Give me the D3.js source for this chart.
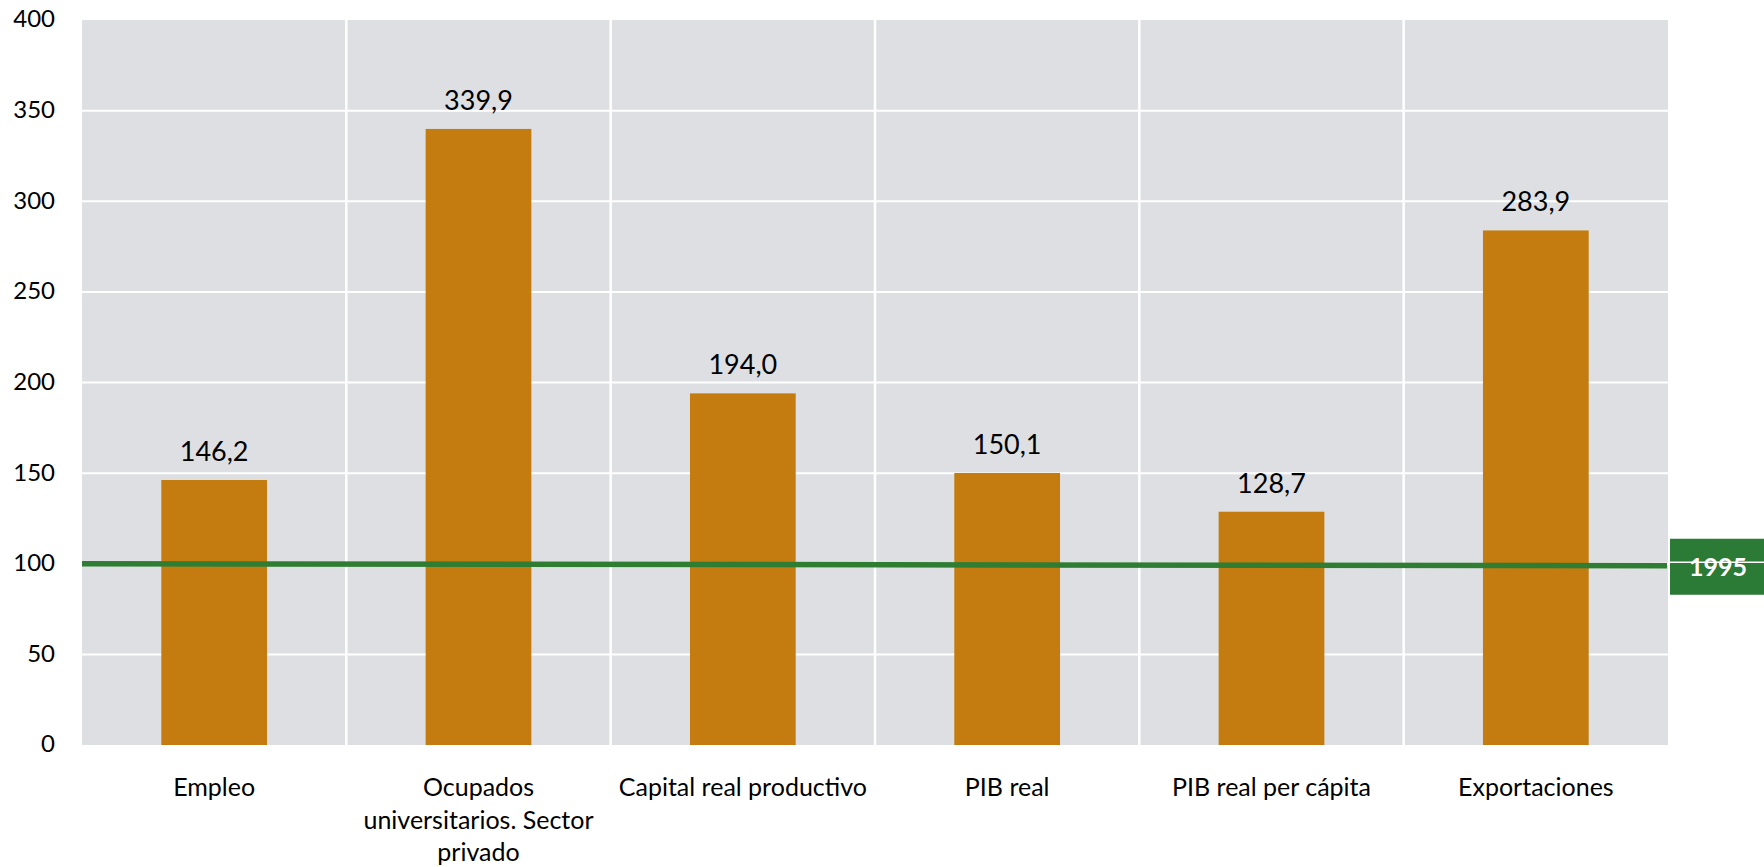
<!DOCTYPE html>
<html>
<head>
<meta charset="utf-8">
<script src="https://cdn.jsdelivr.net/npm/d3@7/dist/d3.min.js"></script>
<style>
  html, body { margin: 0; padding: 0; background: #ffffff; }
  svg { display: block; font-family: Lato, "Open Sans", sans-serif; }
</style>
</head>
<body>
<svg id="chart" width="1764" height="867"></svg>
<script>
// ---- Data ----
const categories = [
  "Empleo",
  "Ocupados\nuniversitarios. Sector\nprivado",
  "Capital real productivo",
  "PIB real",
  "PIB real per cápita",
  "Exportaciones"
];
const values = [146.2, 339.9, 194.0, 150.1, 128.7, 283.9];
const valueLabels = ["146,2", "339,9", "194,0", "150,1", "128,7", "283,9"];
const yTicks = [0, 50, 100, 150, 200, 250, 300, 350, 400];
const baseLine = [100, 98.9];   // reference line (1995 = 100), start and end
const baseLabel = "1995";

// ---- Layout ----
const W = 1764, H = 867;
const plotLeft = 82, plotRight = 1668, plotTop = 20, plotBottom = 745;

const svg = d3.select("#chart");

const x = d3.scaleBand()
  .domain(categories)
  .range([plotLeft, plotRight])
  .paddingInner(0.6)
  .paddingOuter(0.3);

const y = d3.scaleLinear()
  .domain([0, 400])
  .range([plotBottom, plotTop]);

// plot background
svg.append("rect")
  .attr("x", plotLeft).attr("y", plotTop)
  .attr("width", plotRight - plotLeft).attr("height", plotBottom - plotTop)
  .attr("fill", "#dedfe3");

// horizontal gridlines
svg.append("g").selectAll("line")
  .data(yTicks.filter(t => t > 0 && t < 400))
  .join("line")
  .attr("x1", plotLeft).attr("x2", plotRight)
  .attr("y1", d => y(d)).attr("y2", d => y(d))
  .attr("stroke", "#ffffff").attr("stroke-width", 2);

// vertical gridlines at category boundaries
const step = x.step();
svg.append("g").selectAll("line")
  .data(categories.slice(1))
  .join("line")
  .attr("x1", d => x(d) - step * x.paddingOuter())
  .attr("x2", d => x(d) - step * x.paddingOuter())
  .attr("y1", plotTop).attr("y2", plotBottom)
  .attr("stroke", "#ffffff").attr("stroke-width", 2.5);

// bars
svg.append("g").selectAll("rect")
  .data(values)
  .join("rect")
  .attr("x", (d, i) => x(categories[i]))
  .attr("width", x.bandwidth())
  .attr("y", d => y(d))
  .attr("height", d => y(0) - y(d))
  .attr("fill", "#c47c10");

// value labels
svg.append("g").selectAll("text")
  .data(values)
  .join("text")
  .attr("x", (d, i) => x(categories[i]) + x.bandwidth() / 2)
  .attr("y", d => y(d) - 19)
  .attr("text-anchor", "middle")
  .attr("font-size", 27)
  .attr("fill", "#000")
  .text((d, i) => valueLabels[i]);

// baseline reference line
const lineX = d3.scaleLinear().domain([0, baseLine.length - 1]).range([plotLeft, plotRight - 1]);
svg.append("path")
  .datum(baseLine)
  .attr("d", d3.line().x((d, i) => lineX(i)).y(d => y(d)))
  .attr("fill", "none")
  .attr("stroke", "#2e7d32")
  .attr("stroke-width", 5.5);

// y axis labels
svg.append("g").selectAll("text")
  .data(yTicks)
  .join("text")
  .attr("x", 55)
  .attr("y", d => y(d) - 1)
  .attr("dy", "0.35em")
  .attr("text-anchor", "end")
  .attr("font-size", 24)
  .attr("fill", "#000")
  .text(d => d);

// category labels
const catG = svg.append("g");
categories.forEach((c, i) => {
  const t = catG.append("text")
    .attr("x", x(c) + x.bandwidth() / 2)
    .attr("y", plotBottom + 51)
    .attr("text-anchor", "middle")
    .attr("font-size", 25)
    .attr("fill", "#000");
  c.split("\n").forEach((line, j) => {
    t.append("tspan")
      .attr("x", x(c) + x.bandwidth() / 2)
      .attr("dy", j === 0 ? 0 : 32.5)
      .text(line);
  });
});

// 1995 label box
const y100 = y(baseLine[0]);
svg.append("rect")
  .attr("x", plotRight + 2).attr("y", y100 - 25)
  .attr("width", W - plotRight).attr("height", 56)
  .attr("fill", "#2b7a35");
svg.append("line")
  .attr("x1", plotRight).attr("x2", W)
  .attr("y1", y100 - 1.5).attr("y2", y100 - 1.5)
  .attr("stroke", "#ffffff").attr("stroke-width", 1.5);
svg.append("text")
  .attr("x", 1718).attr("y", y100 + 12.5)
  .attr("text-anchor", "middle")
  .attr("font-size", 25)
  .attr("font-weight", "bold")
  .attr("fill", "#ffffff")
  .text(baseLabel);
</script>
</body>
</html>
